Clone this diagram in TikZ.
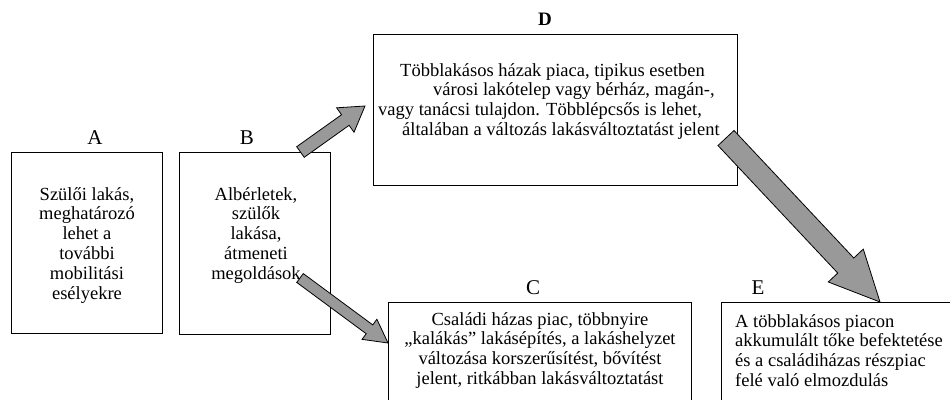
\documentclass[tikz,border=0pt]{standalone}
\usepackage{fontspec}
\setmainfont{Liberation Serif}
\usetikzlibrary{calc}

% block arrow: from, to, shaft half width, head half width, head length (all pt)
\newcommand\blockarrow[5]{%
  \draw[blockarr] let \p1=($(#2)-(#1)$), \n1={atan2(\y1,\x1)}, \n2={veclen(\x1,\y1)-#5} in
    ($(#1)+(\n1+90:#3pt)$) -- ($(#1)+(\n1:\n2)+(\n1+90:#3pt)$)
    -- ($(#1)+(\n1:\n2)+(\n1+90:#4pt)$) -- (#2)
    -- ($(#1)+(\n1:\n2)+(\n1-90:#4pt)$) -- ($(#1)+(\n1:\n2)+(\n1-90:#3pt)$)
    -- ($(#1)+(\n1-90:#3pt)$) -- cycle;}

\begin{document}
\begin{tikzpicture}[x=1pt,y=-1pt,
    box/.style={draw,line width=0.9pt,inner sep=0pt,anchor=north west},
    txt/.style={inner sep=0pt,font=\fontsize{18.5}{19.8}\selectfont},
    lbl/.style={inner sep=0pt,font=\fontsize{21}{24}\selectfont},
    blockarr/.style={draw,line width=0.8pt,fill=black!40,line join=miter}]
  \path[use as bounding box,clip] (0,0) rectangle (950,399);

  % boxes
  \node[box,minimum width=151,minimum height=181] (a) at (11,152) {};
  \node[box,minimum width=151,minimum height=182] (b) at (179,152) {};
  \node[box,minimum width=364,minimum height=151] (d) at (373,34) {};
  \node[box,minimum width=303,minimum height=120] (c) at (388,302) {};
  \node[box,minimum width=260,minimum height=120] (e) at (721,302) {};

  % letters
  \node[lbl] (la) at (95,138) {A};
  \node[lbl] (lb) at (247,138) {B};
  \node[inner sep=0pt,font=\fontsize{19}{22}\selectfont\bfseries] (ld) at (545,19) {D};
  \node[lbl] (lc) at (533,288) {C};
  \node[lbl] (le) at (758,288) {E};

  % texts
  \node[txt,align=center,anchor=north] (ta) at (87,187)
    {Szülői lakás,\\ meghatározó\\ lehet a\\ további\\ mobilitási\\ esélyekre};
  \node[txt,align=center,anchor=north] (tb) at (256,187)
    {Albérletek,\\ szülők\\ lakása,\\ átmeneti\\ megoldások};
  \node[txt,align=left,anchor=north west] (td) at (378,63)
    {\hspace*{22pt}Többlakásos házak piaca, tipikus esetben\\
     \hspace*{55pt}városi lakótelep vagy bérház, magán-,\\
     vagy tanácsi tulajdon. Többlépcsős is lehet,\\
     \hspace*{24pt}általában a változás lakásváltoztatást jelent};
  \node[txt,align=center,anchor=north] (tc) at (540,312)
    {Családi házas piac, többnyire\\ „kalákás” lakásépítés, a lakáshelyzet\\
     változása korszerűsítést, bővítést\\ jelent, ritkábban lakásváltoztatást};
  \node[txt,align=left,anchor=north west] (te) at (735,314)
    {A többlakásos piacon\\ akkumulált tőke befektetése\\
     és a családiházas részpiac\\ felé való elmozdulás};

  % arrows
  \coordinate (bd1) at ($(b.north)+(45.5,0)$);
  \coordinate (bd2) at (365,106);
  \coordinate (bc1) at (300,278);
  \coordinate (bc2) at ($(c.north west)+(0,41)$);
  \coordinate (de1) at (726,138);
  \coordinate (de2) at ($(e.north west)+(159,0)$);
  \blockarrow{bd1}{bd2}{6.5}{15}{24}
  \blockarrow{bc1}{bc2}{5.5}{12.5}{23}
  \blockarrow{de1}{de2}{11}{24}{50}
\end{tikzpicture}
\end{document}
